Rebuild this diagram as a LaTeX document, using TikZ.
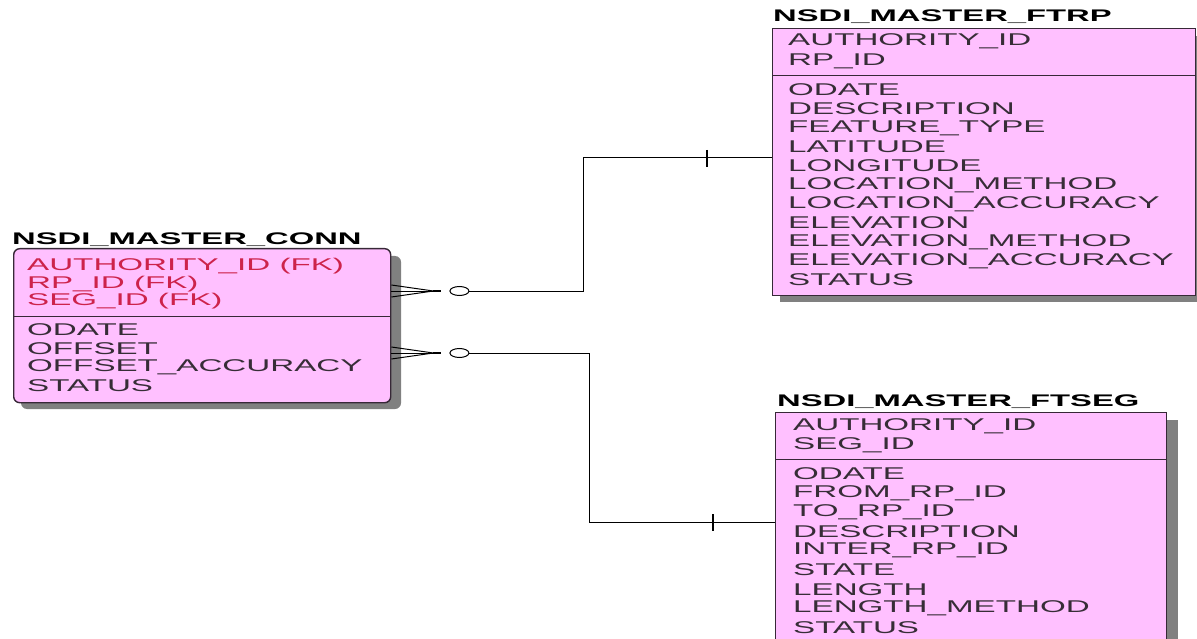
\documentclass[tikz,border=0pt]{standalone}
\usepackage{fontspec}
\usepackage{tikz}
\usetikzlibrary{positioning,shapes.geometric,calc}
\newfontfamily\erfont[FakeStretch=1.95]{Liberation Sans}
\definecolor{erpink}{RGB}{255,192,255}
\definecolor{fkred}{RGB}{205,35,75}
\definecolor{attrgray}{RGB}{55,45,55}
\definecolor{shadowgray}{RGB}{128,128,128}
\definecolor{edgegray}{RGB}{55,40,55}

\begin{document}
\begin{tikzpicture}[
    x=1pt, y=-1pt,
    entity/.style={
        rectangle, draw=edgegray, line width=1.4pt, fill=erpink,
        inner sep=0pt, anchor=north west
    },
    shade/.style={fill=shadowgray},
    etitle/.style={font=\erfont\fontsize{16.8}{18}\selectfont\bfseries, text=black, anchor=west, inner sep=0pt},
    attr/.style={font=\erfont\fontsize{17}{18}\selectfont, text=attrgray, anchor=west, inner sep=0pt},
    fkattr/.style={attr, text=fkred},
    rel/.style={draw=black, line width=1pt},
    ring/.style={ellipse, draw=black, line width=1pt, fill=white, minimum width=19pt, minimum height=9pt, inner sep=0pt},
    bar/.style={draw=black, line width=2pt}
]
\useasboundingbox (0,0) rectangle (1197,639);

% Shadows
\fill[shade, rounded corners=6pt] (21,256) rectangle (401,409);
\fill[shade] (780,36) rectangle (1206,302);
\fill[shade] (783,420) rectangle (1178,660);

% Entities
\node[entity, rounded corners=6pt, minimum width=377pt, minimum height=154pt] (conn)  at (13,248)  {};
\node[entity, minimum width=423pt, minimum height=267pt]                    (ftrp)  at (772,28)  {};
\node[entity, minimum width=391pt, minimum height=240pt]                    (ftseg) at (775,412) {};

\draw[draw=edgegray, line width=1pt] (conn.west |- 0,316) -- (conn.east |- 0,316);
\draw[draw=edgegray, line width=1pt] (ftrp.west |- 0,76) -- (ftrp.east |- 0,76);
\draw[draw=edgegray, line width=1pt] (ftseg.west |- 0,459) -- (ftseg.east |- 0,459);

% Titles
\node[etitle] (conn-t)  at (12,240)    {NSDI\_MASTER\_CONN};
\node[etitle] (ftrp-t)  at (773,16.5)  {NSDI\_MASTER\_FTRP};
\node[etitle] (ftseg-t) at (777,401.5) {NSDI\_MASTER\_FTSEG};

% ── NSDI_MASTER_CONN ────────────────────────────────────────
\foreach \t [count=\i] in {AUTHORITY\_ID (FK), RP\_ID (FK), SEG\_ID (FK)}
  \node[fkattr] (conn-k\i) at (27, 266.5 + 17.5*\i - 17.5) {\t};
\foreach \t [count=\i] in {ODATE, OFFSET, OFFSET\_ACCURACY, STATUS}
  \node[attr] (conn-a\i) at (27, 330 + 18.6*\i - 18.6) {\t};

% ── NSDI_MASTER_FTRP ────────────────────────────────────────
\foreach \t [count=\i] in {AUTHORITY\_ID, RP\_ID}
  \node[attr] (ftrp-k\i) at (788, 41.7 + 19.3*\i - 19.3) {\t};
\foreach \t [count=\i] in {ODATE, DESCRIPTION, FEATURE\_TYPE, LATITUDE, LONGITUDE,
    LOCATION\_METHOD, LOCATION\_ACCURACY, ELEVATION, ELEVATION\_METHOD,
    ELEVATION\_ACCURACY, STATUS}
  \node[attr] (ftrp-a\i) at (788, 90 + 19*\i - 19) {\t};

% ── NSDI_MASTER_FTSEG ───────────────────────────────────────
\foreach \t [count=\i] in {AUTHORITY\_ID, SEG\_ID}
  \node[attr] (ftseg-k\i) at (793, 426 + 19*\i - 19) {\t};
\foreach \t [count=\i] in {ODATE, FROM\_RP\_ID, TO\_RP\_ID, DESCRIPTION, INTER\_RP\_ID,
    STATE, LENGTH, LENGTH\_METHOD, STATUS}
  \node[attr] (ftseg-a\i) at (793, 474 + 19.2*\i - 19.2) {\t};

% ── Crow's feet (zero or many) ──────────────────────────────
\foreach \n/\y in {1/291, 2/353} {
  \coordinate (foot\n) at (conn.east |- 0,\y);
  \coordinate (tip\n) at ([xshift=42pt]foot\n);
  \draw[rel] ([yshift=6pt]foot\n) -- (tip\n) -- ([yshift=-6pt]foot\n);
  \draw[rel] (foot\n) -- (tip\n);
  \draw[bar] (tip\n) -- ([xshift=8pt]tip\n);
  \node[ring] (ring\n) at ([xshift=68pt]foot\n) {};
}

% ── Relationships ───────────────────────────────────────────
\draw[rel] (ring1.east) -- (ring1.east -| 583,0) |- (ftrp.west |- 0,158);
\draw[rel] (ring2.east) -- (ring2.east -| 589,0) |- (ftseg.west |- 0,522);

% exactly-one ticks
\draw[bar] (707,150) -- (707,167);
\draw[bar] (713,514) -- (713,531);

\end{tikzpicture}
\end{document}
